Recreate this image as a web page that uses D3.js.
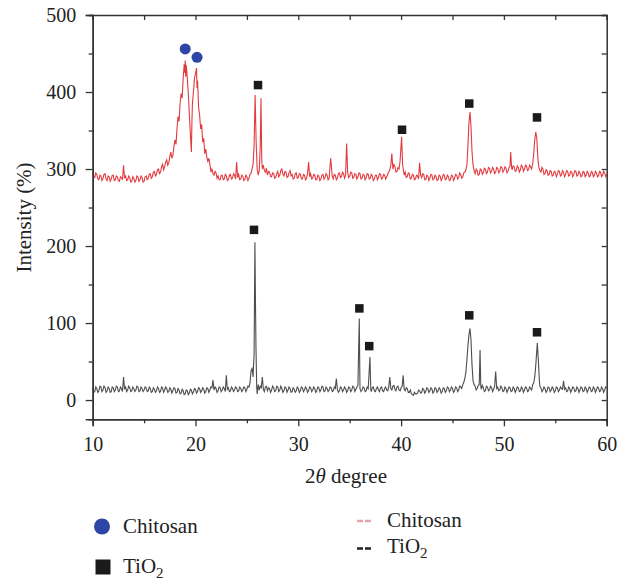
<!DOCTYPE html>
<html><head><meta charset="utf-8">
<script src="https://cdn.jsdelivr.net/npm/d3@7"></script>
<style>
html,body{margin:0;padding:0;background:#fff;}
svg{display:block;}
text{font-family:"Liberation Serif","Times New Roman",serif;fill:#222;}
</style></head>
<body>
<svg id="chart" width="626" height="580"></svg>
<script>
// ---------- DATA ----------
const xMajorTicks = [10, 20, 30, 40, 50, 60];
const xMinorTicks = [15, 25, 35, 45, 55];
const yMajorTicks = [0, 100, 200, 300, 400, 500];
const yMinorTicks = [50, 150, 250, 350, 450];

// Chitosan (red) pattern: [2theta, intensity]
const chitosanPattern = [
[10.0,296],[10.1,290],[10.2,289],[10.3,295],[10.4,293],[10.5,287],[10.6,286],[10.7,292],[10.8,291],[10.9,285],[11.0,288],[11.1,293],[11.2,294],[11.3,287],[11.4,285],[11.5,291],[11.6,290],[11.7,284],[11.8,287],[11.9,292],
[12.0,292],[12.1,285],[12.2,286],[12.3,291],[12.4,290],[12.5,285],[12.6,284],[12.7,290],[12.8,289],[12.9,286],[13.0,305],[13.1,288],[13.2,291],[13.3,285],[13.4,286],[13.5,291],[13.6,289],[13.7,283],[13.8,284],[13.9,290],
[14.0,288],[14.1,283],[14.2,285],[14.3,291],[14.4,290],[14.5,284],[14.6,286],[14.7,291],[14.8,289],[14.9,283],[15.0,284],[15.1,290],[15.2,291],[15.3,286],[15.4,288],[15.5,293],[15.6,294],[15.7,288],
[15.8,290],[15.9,296],[16.0,297],[16.1,291],[16.2,293],[16.3,299],[16.4,300],[16.5,294],[16.6,296],[16.7,303],[16.8,306],[16.9,299],[17.0,303],[17.1,309],[17.2,312],[17.3,305],[17.4,308],[17.5,316],[17.6,322],[17.7,314],
[17.8,318],[17.9,329],[18.0,338],[18.1,332],[18.2,352],[18.3,368],[18.4,362],[18.5,385],[18.6,398],[18.7,392],[18.8,418],
[18.9,436],[18.95,425],[19.0,441],[19.05,420],[19.1,435],[19.2,418],[19.3,398],[19.4,372],[19.5,345],[19.6,322],
[19.65,360],[19.7,385],[19.8,400],[19.9,418],[20.0,424],[20.1,431],[20.15,405],[20.2,415],[20.3,380],[20.4,370],
[20.5,352],[20.6,358],[20.7,335],[20.8,340],[20.9,320],[21.0,326],[21.1,315],[21.2,310],[21.3,314],[21.4,306],[21.5,296],[21.6,300],[21.7,294],
[21.8,292],[21.9,297],[22.0,295],[22.1,288],[22.2,291],[22.3,286],[22.4,286],[22.5,292],[22.6,292],[22.7,286],[22.8,287],[22.9,293],[23.0,291],[23.1,285],[23.2,286],[23.3,292],[23.4,293],
[23.5,287],[23.6,288],[23.7,294],[23.8,292],[23.9,287],[24.0,309],[24.1,289],[24.2,293],[24.3,286],[24.4,287],[24.5,292],[24.6,291],[24.7,285],[24.8,286],[24.9,292],[25.0,290],[25.1,285],[25.2,288],[25.3,293],
[25.4,294],[25.5,300],[25.6,306],[25.7,330],[25.8,396],[25.9,335],[26.0,300],[26.1,292],[26.2,298],[26.3,330],
[26.37,392],[26.45,310],[26.5,300],[26.6,305],[26.7,298],[26.8,296],[26.9,301],[27.0,292],[27.1,297],[27.2,296],[27.3,290],[27.4,290],[27.5,295],[27.6,294],[27.7,288],[27.8,289],
[27.9,294],[28.0,297],[28.1,290],[28.2,292],[28.3,298],[28.4,300],[28.5,293],[28.6,291],[28.7,297],[28.8,296],[28.9,289],[29.0,290],[29.1,295],[29.2,298],[29.3,291],[29.4,293],[29.5,287],[29.6,288],[29.7,294],[29.8,295],
[29.9,288],[30.0,289],[30.1,294],[30.2,293],[30.3,287],[30.4,287],[30.5,293],[30.6,292],[30.7,286],[30.8,288],[30.9,294],[31.0,309],[31.1,290],[31.2,294],[31.3,287],[31.4,288],[31.5,293],[31.6,292],
[31.7,286],[31.8,286],[31.9,292],[32.0,291],[32.1,285],[32.2,287],[32.3,292],[32.4,293],[32.5,287],[32.6,289],[32.7,294],[32.8,292],[32.9,286],[33.0,288],[33.15,314],[33.3,291],[33.4,287],
[33.5,293],[33.6,292],[33.7,286],[33.8,288],[33.9,294],[34.0,295],[34.1,289],[34.2,290],[34.3,296],[34.4,294],[34.5,288],[34.6,292],[34.7,333],[34.8,296],[34.9,289],[35.0,291],[35.1,296],[35.2,295],
[35.3,288],[35.4,289],[35.5,294],[35.6,293],[35.7,287],[35.8,290],[35.9,295],[36.0,294],[36.1,287],[36.2,288],[36.3,293],[36.4,292],[36.5,286],[36.6,289],[36.7,294],[36.8,293],[36.9,287],[37.0,288],[37.1,293],[37.2,291],
[37.3,285],[37.4,287],[37.5,292],[37.6,292],[37.7,286],[37.8,289],[37.9,294],[38.0,293],[38.1,287],[38.2,288],[38.3,293],[38.4,292],[38.5,287],[38.6,290],[38.7,293],[38.8,296],[38.9,299],[39.0,305],[39.1,320],
[39.2,300],[39.3,306],[39.4,303],[39.5,296],[39.6,297],[39.7,302],[39.8,300],[39.9,310],[40.05,342],[40.15,305],[40.3,292],[40.4,296],[40.5,289],[40.6,290],
[40.7,295],[40.8,294],[40.9,287],[41.0,288],[41.1,293],[41.2,292],[41.3,286],[41.4,287],[41.5,292],[41.6,291],[41.7,287],[41.8,308],[41.9,292],[42.0,289],[42.1,294],[42.2,293],[42.3,286],[42.4,286],
[42.5,292],[42.6,291],[42.7,285],[42.8,288],[42.9,293],[43.0,292],[43.1,286],[43.2,287],[43.3,292],[43.4,290],[43.5,285],[43.6,286],[43.7,292],[43.8,291],[43.9,285],[44.0,288],[44.1,293],[44.2,292],[44.3,286],[44.4,287],
[44.5,292],[44.6,290],[44.7,285],[44.8,286],[44.9,292],[45.0,291],[45.1,285],[45.2,288],[45.3,293],[45.4,292],[45.5,287],[45.6,289],[45.7,295],[45.8,293],[45.9,288],[46.0,290],[46.1,295],[46.2,296],[46.3,299],[46.4,305],
[46.5,330],[46.6,360],[46.7,374],[46.8,355],[46.9,322],[47.0,305],[47.1,298],[47.2,294],[47.3,300],[47.4,298],[47.5,292],[47.6,293],[47.7,300],[47.8,299],
[47.9,293],[48.0,295],[48.1,301],[48.2,300],[48.3,294],[48.4,296],[48.5,302],[48.6,301],[48.7,295],[48.8,297],[48.9,302],[49.0,300],[49.1,294],[49.2,296],[49.3,302],[49.4,301],[49.5,295],[49.6,297],[49.7,303],[49.8,302],
[49.9,296],[50.0,298],[50.1,303],[50.2,301],[50.3,295],[50.4,297],[50.5,302],[50.6,304],[50.66,322],[50.75,302],[50.8,299],[50.9,304],[51.0,303],[51.1,297],[51.2,298],[51.3,304],[51.4,302],
[51.5,296],[51.6,299],[51.7,305],[51.8,303],[51.9,297],[52.0,300],[52.1,305],[52.2,304],[52.3,298],[52.4,299],[52.5,305],[52.6,303],[52.7,300],[52.8,307],[52.9,320],[53.0,338],[53.1,348],
[53.2,340],[53.3,315],[53.4,302],[53.5,298],[53.6,296],[53.7,302],[53.8,300],[53.9,293],[54.0,294],[54.1,299],[54.2,298],[54.3,292],[54.4,293],[54.5,298],[54.6,297],[54.7,291],[54.8,292],
[54.9,297],[55.0,296],[55.1,290],[55.2,293],[55.3,298],[55.4,297],[55.5,291],[55.6,292],[55.7,298],[55.8,296],[55.9,290],[56.0,293],[56.1,298],[56.2,297],[56.3,291],[56.4,292],[56.5,297],[56.6,296],[56.7,290],[56.8,293],
[56.9,298],[57.0,297],[57.1,291],[57.2,292],[57.3,297],[57.4,295],[57.5,290],[57.6,291],[57.7,297],[57.8,296],[57.9,290],[58.0,292],[58.1,297],[58.2,295],[58.3,290],[58.4,291],[58.5,297],[58.6,296],[58.7,290],[58.8,292],
[58.9,297],[59.0,295],[59.1,290],[59.2,291],[59.3,297],[59.4,296],[59.5,290],[59.6,292],[59.7,297],[59.8,295],[59.9,290],[60.0,293]
];

// TiO2 (dark gray) pattern: [2theta, intensity]
const tio2Pattern = [
[10.0,16],[10.1,10],[10.2,11],[10.3,17],[10.4,15],[10.5,10],[10.6,12],[10.7,18],[10.8,17],[10.9,11],[11.0,13],[11.1,18],[11.2,16],[11.3,10],[11.4,12],[11.5,17],[11.6,15],[11.7,10],[11.8,11],[11.9,17],
[12.0,16],[12.1,11],[12.2,13],[12.3,18],[12.4,17],[12.5,11],[12.6,12],[12.7,17],[12.8,15],[12.9,11],[13.0,30],[13.1,14],[13.2,17],[13.3,11],[13.4,13],[13.5,18],[13.6,16],[13.7,11],
[13.8,12],[13.9,17],[14.0,15],[14.1,11],[14.2,13],[14.3,18],[14.4,17],[14.5,11],[14.6,12],[14.7,17],[14.8,15],[14.9,11],[15.0,13],[15.1,17],[15.2,16],[15.3,11],[15.4,12],[15.5,17],[15.6,15],[15.7,10],
[15.8,11],[15.9,16],[16.0,14],[16.1,10],[16.2,12],[16.3,17],[16.4,15],[16.5,10],[16.6,11],[16.7,17],[16.8,16],[16.9,10],[17.0,13],[17.1,17],[17.2,15],[17.3,10],[17.4,11],[17.5,16],[17.6,14],[17.7,9],
[17.8,12],[17.9,16],[18.0,15],[18.1,9],[18.2,10],[18.3,15],[18.4,13],[18.5,8],[18.6,9],[18.7,14],[18.8,12],[18.9,7],[19.0,8],[19.1,13],[19.2,12],[19.3,7],[19.4,9],[19.5,14],[19.6,13],
[19.7,8],[19.8,10],[19.9,15],[20.0,14],[20.1,9],[20.2,11],[20.3,16],[20.4,15],[20.5,10],[20.6,12],[20.7,16],[20.8,14],[20.9,9],[21.0,11],[21.1,16],[21.2,15],[21.3,10],[21.4,13],[21.5,17],[21.6,16],
[21.7,26],[21.8,13],[21.9,17],[22.0,15],[22.1,10],[22.2,12],[22.3,17],[22.4,16],[22.5,11],[22.6,13],[22.7,17],[22.8,15],[22.9,11],[23.0,32],[23.1,14],[23.2,16],
[23.3,11],[23.4,12],[23.5,17],[23.6,15],[23.7,11],[23.8,13],[23.9,17],[24.0,16],[24.1,11],[24.2,12],[24.3,17],[24.4,15],[24.5,11],[24.6,13],[24.7,17],[24.8,16],[24.9,11],[25.0,14],[25.1,18],[25.2,17],
[25.3,22],[25.4,38],[25.5,41],[25.6,30],[25.7,60],[25.78,205],[25.84,120],[25.88,71],[25.95,18],[26.0,8],
[26.1,20],[26.2,13],[26.3,18],[26.4,16],[26.5,30],[26.6,14],[26.7,11],[26.8,17],[26.9,18],[27.0,12],[27.1,16],[27.2,15],[27.3,10],[27.4,13],[27.5,18],[27.6,16],
[27.7,11],[27.8,12],[27.9,18],[28.0,17],[28.1,11],[28.2,13],[28.3,18],[28.4,15],[28.5,10],[28.6,12],[28.7,17],[28.8,16],[28.9,10],[29.0,13],[29.1,17],[29.2,15],[29.3,10],[29.4,11],[29.5,16],[29.6,14],
[29.7,10],[29.8,12],[29.9,17],[30.0,15],[30.1,10],[30.2,12],[30.3,17],[30.4,16],[30.5,11],[30.6,13],[30.7,17],[30.8,15],[30.9,10],[31.0,12],[31.1,17],[31.2,16],[31.3,11],[31.4,13],[31.5,17],[31.6,15],
[31.7,10],[31.8,12],[31.9,17],[32.0,16],[32.1,11],[32.2,13],[32.3,18],[32.4,17],[32.5,11],[32.6,12],[32.7,17],[32.8,15],[32.9,11],[33.0,13],[33.1,17],[33.2,16],[33.3,11],[33.4,12],[33.5,17],[33.6,15],
[33.7,28],[33.8,14],[33.9,10],[34.0,12],[34.1,17],[34.2,16],[34.3,11],[34.4,13],[34.5,17],[34.6,15],[34.7,10],[34.8,12],[34.9,17],[35.0,16],[35.1,11],[35.2,13],[35.3,18],[35.4,17],
[35.5,11],[35.6,14],[35.7,17],[35.8,19],[35.93,106],[36.0,15],[36.1,11],[36.2,13],[36.3,17],[36.4,16],[36.5,11],[36.6,12],[36.7,17],[36.8,15],[36.97,56],[37.05,14],
[37.1,11],[37.2,16],[37.3,17],[37.4,12],[37.5,11],[37.6,15],[37.7,17],[37.8,13],[37.9,11],[38.0,16],[38.1,17],[38.2,12],[38.3,11],[38.4,15],[38.5,17],[38.6,13],[38.7,12],[38.8,17],[38.9,30],
[39.0,15],[39.1,13],[39.2,18],[39.3,19],[39.4,14],[39.5,12],[39.6,17],[39.7,18],[39.8,13],[39.9,12],[40.0,16],[40.1,18],[40.2,32],[40.3,14],[40.4,12],[40.5,16],[40.6,15],
[40.7,10],[40.8,10],[40.9,13],[41.0,8],[41.1,7],[41.2,6],[41.3,10],[41.4,8],[41.5,8],[41.6,9],[41.7,13],[41.8,12],[41.9,9],[42.0,10],[42.1,15],[42.2,14],[42.3,9],[42.4,11],[42.5,16],[42.6,15],
[42.7,10],[42.8,12],[42.9,16],[43.0,14],[43.1,9],[43.2,11],[43.3,16],[43.4,15],[43.5,10],[43.6,12],[43.7,16],[43.8,14],[43.9,9],[44.0,11],[44.1,16],[44.2,15],[44.3,10],[44.4,12],[44.5,17],[44.6,16],
[44.7,11],[44.8,13],[44.9,17],[45.0,15],[45.1,10],[45.2,12],[45.3,17],[45.4,16],[45.5,11],[45.6,13],[45.7,18],[45.8,17],[45.9,15],[46.0,20],[46.1,23],[46.2,28],[46.3,36],[46.4,52],
[46.5,70],[46.6,85],[46.7,93],[46.8,78],[46.9,45],[47.0,25],[47.1,20],[47.2,18],[47.3,13],[47.4,15],[47.5,19],[47.6,20],[47.68,65],
[47.75,18],[47.8,14],[47.9,19],[48.0,16],[48.1,11],[48.2,12],[48.3,18],[48.4,17],[48.5,12],[48.6,13],[48.7,18],[48.8,16],[48.9,11],[49.0,14],[49.1,18],[49.2,37],[49.3,15],
[49.4,17],[49.5,12],[49.6,13],[49.7,18],[49.8,16],[49.9,11],[50.0,12],[50.1,17],[50.2,15],[50.3,10],[50.4,13],[50.5,17],[50.6,16],[50.7,11],[50.8,12],[50.9,17],[51.0,15],[51.1,10],[51.2,13],
[51.3,17],[51.4,16],[51.5,11],[51.6,12],[51.7,17],[51.8,15],[51.9,10],[52.0,13],[52.1,17],[52.2,16],[52.3,11],[52.4,12],[52.5,17],[52.6,15],[52.7,13],[52.8,20],[52.9,22],[53.0,30],[53.1,45],
[53.25,74],[53.35,52],[53.45,25],[53.5,18],[53.6,16],[53.7,11],[53.8,13],[53.9,17],[54.0,15],[54.1,10],[54.2,12],[54.3,17],[54.4,16],[54.5,11],[54.6,13],[54.7,17],[54.8,15],
[54.9,10],[55.0,12],[55.1,17],[55.2,16],[55.3,11],[55.4,13],[55.5,17],[55.6,15],[55.7,14],[55.8,25],[55.9,14],[56.0,16],[56.1,11],[56.2,12],[56.3,17],[56.4,15],[56.5,10],[56.6,13],
[56.7,17],[56.8,16],[56.9,11],[57.0,12],[57.1,17],[57.2,15],[57.3,10],[57.4,13],[57.5,17],[57.6,16],[57.7,11],[57.8,12],[57.9,17],[58.0,15],[58.1,10],[58.2,13],[58.3,17],[58.4,16],[58.5,11],[58.6,12],
[58.7,17],[58.8,15],[58.9,10],[59.0,13],[59.1,17],[59.2,16],[59.3,11],[59.4,12],[59.5,17],[59.6,15],[59.7,10],[59.8,13],[59.9,17],[60.0,16]
];

// Peak markers: [2theta, intensity]
const chitosanPeakMarks = [[19.0,456],[20.15,445]];
const tio2MarksOnChitosan = [[26.08,409],[40.09,351],[46.63,385],[53.22,367]];
const tio2MarksOnTiO2 = [[25.69,221],[35.94,119],[36.9,70],[46.63,110],[53.22,88]];

const legendMarkers = ["Chitosan", "TiO2"];
const legendLines = ["Chitosan", "TiO2"];

// ---------- DRAW ----------
const svg = d3.select("#chart");
const x = d3.scaleLinear().domain([10, 60]).range([92.7, 606.7]);
const y = d3.scaleLinear().domain([-25, 500]).range([419.3, 15]);

const axisColor = "#333";
const tickFont = 20;

// Lines
const line = d3.line().x(d => x(d[0])).y(d => y(d[1]));
svg.append("path").datum(tio2Pattern)
  .attr("d", line).attr("fill", "none").attr("stroke", "#4d4d4d").attr("stroke-width", 1.1);
svg.append("path").datum(chitosanPattern)
  .attr("d", line).attr("fill", "none").attr("stroke", "#e23b3f").attr("stroke-width", 1.1);

// Markers
svg.selectAll("circle.pk").data(chitosanPeakMarks).enter().append("circle")
  .attr("class", "pk").attr("cx", d => x(d[0])).attr("cy", d => y(d[1])).attr("r", 5.5)
  .attr("fill", "#2c45a6");
const sq = 8.5;
svg.selectAll("rect.pk").data(tio2MarksOnChitosan.concat(tio2MarksOnTiO2)).enter().append("rect")
  .attr("class", "pk").attr("x", d => x(d[0]) - sq / 2).attr("y", d => y(d[1]) - sq / 2)
  .attr("width", sq).attr("height", sq).attr("fill", "#1a1a1a");

function styleAxis(g) {
  g.selectAll(".domain").attr("stroke", axisColor).attr("stroke-width", 1.5);
  g.selectAll(".tick line").attr("stroke", axisColor).attr("stroke-width", 1.3);
  g.selectAll(".tick text").style("font-family", '"Liberation Serif", serif')
    .style("font-size", tickFont + "px").attr("fill", "#222");
}

// Bottom axis
svg.append("g").attr("transform", `translate(0,${y(-25)})`)
  .call(d3.axisBottom(x).tickValues(xMajorTicks).tickSize(7).tickPadding(11).tickFormat(d3.format("d")))
  .call(styleAxis);
svg.append("g").attr("transform", `translate(0,${y(-25)})`)
  .call(d3.axisBottom(x).tickValues(xMinorTicks).tickSize(4).tickFormat(""))
  .call(styleAxis);
// Top axis (inward ticks)
svg.append("g").attr("transform", `translate(0,${y(500)})`)
  .call(d3.axisBottom(x).tickValues(xMajorTicks.concat(xMinorTicks)).tickSize(5).tickFormat(""))
  .call(styleAxis);
// Left axis
svg.append("g").attr("transform", `translate(${x(10)},0)`)
  .call(d3.axisLeft(y).tickValues(yMajorTicks).tickSize(7).tickPadding(9.5).tickFormat(d3.format("d")))
  .call(styleAxis);
svg.append("g").attr("transform", `translate(${x(10)},0)`)
  .call(d3.axisLeft(y).tickValues(yMinorTicks).tickSize(4).tickFormat(""))
  .call(styleAxis);
// Right axis (inward ticks)
svg.append("g").attr("transform", `translate(${x(60)},0)`)
  .call(d3.axisLeft(y).tickValues(yMajorTicks.concat(yMinorTicks)).tickSize(5).tickFormat(""))
  .call(styleAxis);

// Axis titles
const xt = svg.append("text").attr("x", 346).attr("y", 483).attr("text-anchor", "middle")
  .style("font-size", "21px");
xt.append("tspan").text("2");
xt.append("tspan").style("font-style", "italic").text("θ");
xt.append("tspan").text(" degree");

svg.append("text").attr("transform", "translate(31,217.5) rotate(-90)")
  .attr("text-anchor", "middle").style("font-size", "21px").text("Intensity (%)");

// Legend (markers)
svg.append("circle").attr("cx", 102).attr("cy", 526.5).attr("r", 8).attr("fill", "#2c45a6");
svg.append("text").attr("x", 123).attr("y", 533).style("font-size", "21px").text(legendMarkers[0]);
svg.append("rect").attr("x", 95.5).attr("y", 559.5).attr("width", 15).attr("height", 15).attr("fill", "#1a1a1a");
const t1 = svg.append("text").attr("x", 123).attr("y", 573).style("font-size", "21px");
t1.append("tspan").text("TiO");
t1.append("tspan").attr("dy", 5).style("font-size", "15px").text("2");

// Legend (lines)
svg.append("line").attr("x1", 357).attr("x2", 372).attr("y1", 521).attr("y2", 521)
  .attr("stroke", "#e6a2a8").attr("stroke-width", 2.5).attr("stroke-dasharray", "6,2");
svg.append("text").attr("x", 387).attr("y", 527).style("font-size", "21px").text(legendLines[0]);
svg.append("line").attr("x1", 357).attr("x2", 372).attr("y1", 548.5).attr("y2", 548.5)
  .attr("stroke", "#222").attr("stroke-width", 2.5).attr("stroke-dasharray", "6,2");
const t2 = svg.append("text").attr("x", 387).attr("y", 553).style("font-size", "21px");
t2.append("tspan").text("TiO");
t2.append("tspan").attr("dy", 5).style("font-size", "15px").text("2");
</script>
</body></html>
